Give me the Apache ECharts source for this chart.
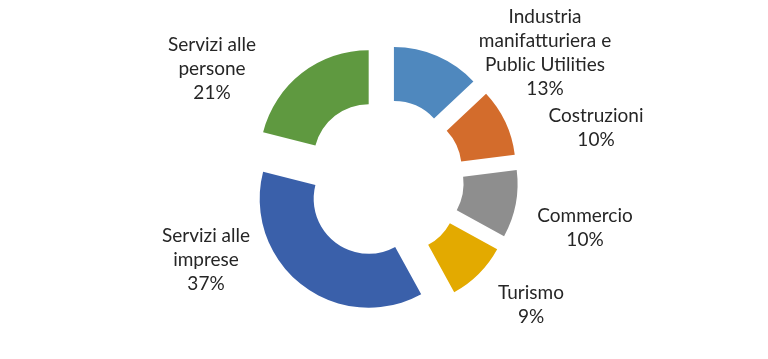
<!DOCTYPE html>
<html><head><meta charset="utf-8">
<script src="https://cdn.jsdelivr.net/npm/echarts@6/dist/echarts.min.js"></script>
<style>html,body{margin:0;padding:0;background:#fff}#c{width:768px;height:359px}</style>
</head><body><div id="c"></div>
<script>
// Data
const categories = ['Industria\nmanifatturiera e\nPublic Utilities', 'Costruzioni', 'Commercio', 'Turismo', 'Servizi alle\nimprese', 'Servizi alle\npersone'];
const values = [13, 10, 10, 9, 37, 21];
// Styling (kept separate from data)
const colors = ['#4F88BE', '#D36C2C', '#8E8E8E', '#E3AA00', '#3A60AA', '#5F9940'];
const labelX = [545, 596, 585, 531, 206, 212];
const labelY = [53, 128, 228, 305, 260, 69];

const chart = echarts.init(document.getElementById('c'));
chart.setOption({
  animation: false,
  series: [{
    type: 'pie',
    center: [384, 179],
    radius: [55, 109],
    startAngle: 90,
    clockwise: true,
    selectedMode: 'multiple',
    selectedOffset: 25,
    avoidLabelOverlap: false,
    emphasis: { disabled: true },
    data: categories.map((n, i) => ({ name: n, value: values[i], selected: true, itemStyle: { color: colors[i] } })),
    itemStyle: { borderWidth: 0 },
    label: { show: false },
    labelLine: { show: false }
  }],
  graphic: categories.map((n, i) => ({
    type: 'text',
    x: labelX[i],
    y: labelY[i],
    silent: true,
    style: {
      text: n + '\n' + values[i] + '%',
      font: '19px Lato',
      lineHeight: 24,
      fill: '#262626',
      align: 'center',
      verticalAlign: 'middle'
    }
  }))
});
</script></body></html>
